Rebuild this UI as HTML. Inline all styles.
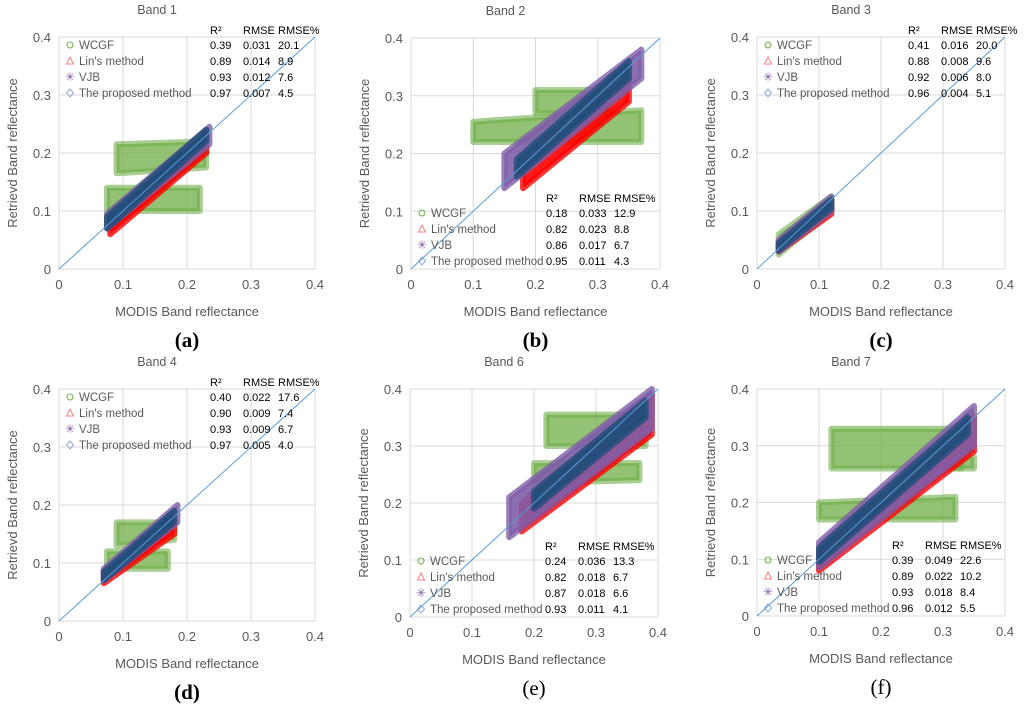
<!DOCTYPE html>
<html><head><meta charset="utf-8"><style>
body{margin:0;background:#fff;}
svg{display:block;font-family:"Liberation Sans",sans-serif;}
</style></head><body>
<svg id="fig" width="1024" height="707" viewBox="0 0 1024 707"></svg>
<script>
// panel metadata
const panelIds = ['a','b','c','d','e','f'];
const panelTitles = ['Band 1','Band 2','Band 3','Band 4','Band 6','Band 7'];
const tickValues = [0,0.1,0.2,0.3,0.4];
const tickLabels = ['0','0.1','0.2','0.3','0.4'];
const seriesNames = ['WCGF',"Lin's method",'VJB','The proposed method'];
const statR2 = [[0.39,0.89,0.93,0.97],[0.18,0.82,0.86,0.95],[0.41,0.88,0.92,0.96],[0.40,0.90,0.93,0.97],[0.24,0.82,0.87,0.93],[0.39,0.89,0.93,0.96]];
const statRMSE = [['0.031','0.014','0.012','0.007'],['0.033','0.023','0.017','0.011'],['0.016','0.008','0.006','0.004'],['0.022','0.009','0.009','0.005'],['0.036','0.018','0.018','0.011'],['0.049','0.022','0.018','0.012']];
const statPct = [['20.1','8.9','7.6','4.5'],['12.9','8.8','6.7','4.3'],['20.0','9.6','8.0','5.1'],['17.6','7.4','6.7','4.0'],['13.3','6.7','6.6','4.1'],['22.6','10.2','8.4','5.5']];
// point clouds: per panel, per series, list of bands [x, yLow, yHigh]
const wcgfClouds = [
 [[[0.09,0.165,0.215],[0.23,0.175,0.22]],[[0.075,0.1,0.14],[0.22,0.1,0.14]],[[0.08,0.07,0.1],[0.23,0.2,0.24]]],
 [[[0.1,0.22,0.255],[0.37,0.22,0.275]],[[0.2,0.27,0.31],[0.32,0.27,0.31]]],
 [[[0.035,0.025,0.06],[0.12,0.1,0.125]]],
 [[[0.09,0.13,0.17],[0.18,0.14,0.17]],[[0.075,0.09,0.12],[0.17,0.09,0.12]]],
 [[[0.22,0.3,0.355],[0.38,0.3,0.355]],[[0.2,0.235,0.27],[0.37,0.24,0.27]]],
 [[[0.12,0.26,0.33],[0.33,0.26,0.33]],[[0.28,0.26,0.28],[0.35,0.26,0.28]],[[0.1,0.17,0.2],[0.32,0.17,0.21]]]
];
const linClouds = [
 [[[0.08,0.06,0.09],[0.23,0.2,0.235]]],
 [[[0.18,0.14,0.19],[0.35,0.29,0.34]]],
 [[[0.035,0.03,0.045],[0.12,0.095,0.12]]],
 [[[0.07,0.065,0.085],[0.18,0.15,0.185]]],
 [[[0.18,0.15,0.2],[0.39,0.32,0.39]]],
 [[[0.1,0.08,0.11],[0.35,0.29,0.35]]]
];
const vjbClouds = [
 [[[0.075,0.07,0.095],[0.235,0.215,0.245]]],
 [[[0.15,0.14,0.2],[0.37,0.33,0.38]]],
 [[[0.035,0.03,0.05],[0.12,0.1,0.125]]],
 [[[0.07,0.07,0.09],[0.185,0.17,0.2]]],
 [[[0.16,0.14,0.21],[0.39,0.33,0.4]]],
 [[[0.1,0.085,0.13],[0.35,0.3,0.37]]]
];
const propClouds = [
 [[[0.075,0.07,0.09],[0.23,0.22,0.24]]],
 [[[0.17,0.16,0.19],[0.35,0.33,0.36]]],
 [[[0.035,0.032,0.045],[0.12,0.105,0.12]]],
 [[[0.07,0.07,0.085],[0.18,0.17,0.19]]],
 [[[0.2,0.19,0.22],[0.38,0.35,0.38]]],
 [[[0.1,0.095,0.12],[0.34,0.32,0.35]]]
];
// layout
const P = [
 {x0:59,x1:315,y0:269,y1:37,legTop:true},
 {x0:411,x1:660,y0:269,y1:38,legTop:false},
 {x0:757,x1:1005,y0:269,y1:37,legTop:true},
 {x0:59,x1:315,y0:621,y1:389,legTop:true},
 {x0:410,x1:658,y0:617,y1:389,legTop:false},
 {x0:757,x1:1005,y0:616,y1:389,legTop:false}
];
const colOff = [0,33,68];
const colors = ['#70ad47','#ff0000','#7f5fa9','#1f4e79'];
const svg = document.getElementById('fig');
const NS='http://www.w3.org/2000/svg';
function mk(tag,attrs,parent,text){const e=document.createElementNS(NS,tag);for(const k in attrs)e.setAttribute(k,attrs[k]);if(text!==undefined)e.textContent=text;(parent||svg).appendChild(e);return e;}
P.forEach((p,i)=>{
 const sx=v=>p.x0+(p.x1-p.x0)*v/0.4, sy=v=>p.y0+(p.y1-p.y0)*v/0.4;
 const g=mk('g',{});
 
 
 tickValues.forEach((t,k)=>{
  const gl=mk('line',{x1:sx(t),x2:sx(t),y1:p.y0,y2:p.y1,stroke:'#d9d9d9','stroke-width':1},g);
   
  const hl=mk('line',{x1:p.x0,x2:p.x1,y1:sy(t),y2:sy(t),stroke:'#d9d9d9','stroke-width':1},g);
   
  const xt=mk('text',{x:sx(t),y:p.y0+20,'text-anchor':'middle','font-size':13,fill:'#595959'},g,tickLabels[k]);
   
  const yt=mk('text',{x:p.x0-8,y:sy(t)+5,'text-anchor':'end','font-size':13,fill:'#595959'},g,tickLabels[k]);
   
 });
 const all=[wcgfClouds[i],linClouds[i],vjbClouds[i],propClouds[i]];
 all.forEach((bands,s)=>{
  bands.forEach(b=>{
   const pts=b.map(q=>sx(q[0])+','+sy(q[2])).concat(b.slice().reverse().map(q=>sx(q[0])+','+sy(q[1]))).join(' ');
   const pg=mk('polygon',{points:pts,fill:colors[s],'fill-opacity':s==0?0.75:0.9,stroke:colors[s],'stroke-width':6,'stroke-linejoin':'round','stroke-opacity':s==0?0.6:0.8},g);
   
   
  });
 });
 const dl=mk('line',{x1:sx(0),y1:sy(0),x2:sx(0.4),y2:sy(0.4),stroke:'#5b9bd5','stroke-width':1},g);
  
 const tt=mk('text',{x:(p.x0+p.x1)/2-30,y:p.y1-23,'text-anchor':'middle','font-size':12.5,fill:'#595959'},g,panelTitles[i]);
  
 const xa=mk('text',{x:(p.x0+p.x1)/2,y:p.y0+47,'text-anchor':'middle','font-size':13,fill:'#595959'},g,'MODIS Band reflectance');
  
 const ya=mk('text',{x:0,y:0,'text-anchor':'middle','font-size':13,fill:'#595959',transform:`translate(${p.x0-42},${(p.y0+p.y1)/2}) rotate(-90)`},g,'Retrievd Band  reflectance');
  
 const lt=mk('text',{x:(p.x0+p.x1)/2,y:p.y0+78,'text-anchor':'middle','font-size':21,fill:'#000','font-family':'Liberation Serif, serif','font-weight':i<4?'bold':'normal'},g,'('+panelIds[i]+')');
  
 const ly=p.legTop?p.y1+12:p.y0-52;
 const sxS=p.legTop?p.x0+151:p.x0+135;
 const hy=ly-15;
 ['R²','RMSE','RMSE%'].forEach((h,k)=>{
  const ht=mk('text',{x:sxS+colOff[k],y:hy,'font-size':11,fill:'#000'},g,h);
   
 });
 seriesNames.forEach((n,s)=>{
  const y=ly+s*16;
  const mx=p.x0+11;
  let m;
  if(s==0)m=mk('circle',{cx:mx,cy:y-4,r:3,fill:'none',stroke:colors[0]},g);
  else if(s==1)m=mk('polygon',{points:`${mx-3.5},${y-1} ${mx+3.5},${y-1} ${mx},${y-8}`,fill:'none',stroke:'#ff7c80'},g);
  else if(s==2)m=mk('text',{x:mx,y:y,'text-anchor':'middle','font-size':12,fill:colors[2]},g,'✳');
  else m=mk('polygon',{points:`${mx},${y-8} ${mx+3.5},${y-4} ${mx},${y} ${mx-3.5},${y-4}`,fill:'none',stroke:'#8faadc'},g);
   
  const t=mk('text',{x:mx+9,y:y,'font-size':11.5,fill:'#595959'},g,n);
   
  [statR2[i][s].toFixed(2),statRMSE[i][s],statPct[i][s]].forEach((v,k)=>{
   const st=mk('text',{x:sxS+colOff[k],y:y,'font-size':11,fill:'#000'},g,v);
    
  });
 });
});
</script>
</body></html>
